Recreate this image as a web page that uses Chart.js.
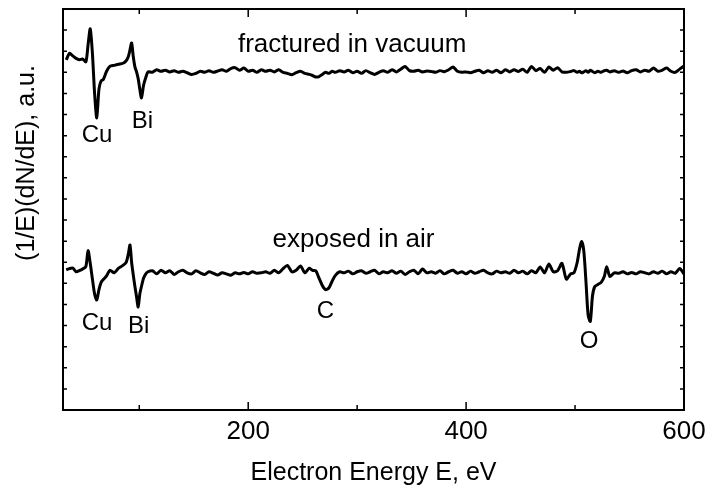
<!DOCTYPE html>
<html>
<head>
<meta charset="utf-8">
<script src="https://cdn.jsdelivr.net/npm/chart.js@4/dist/chart.umd.min.js"></script>
<style>
  body { margin: 0; background: #fff; }
  #wrap { width: 707px; height: 489px; }
</style>
</head>
<body>
<div id="wrap"><canvas id="aes" width="707" height="489"></canvas></div>
<script>
// Auger spectra, (1/E)(dN/dE) in arbitrary units
const energy = [
    33, 36, 39, 42, 45, 48, 51, 53, 55, 57, 59, 61, 63, 65, 67, 70, 73, 77, 81, 85,
    88, 90, 91.5, 93, 94.5, 96, 97.5, 99, 100.5, 102, 104, 106, 108,
    112, 116, 120, 124, 128, 132, 136, 140, 144, 148,
    152, 156, 160, 164, 168, 172, 176, 180, 184, 188,
    192, 196, 200, 204, 208, 212, 216, 220, 224, 228,
    232, 236, 240, 244, 248, 252, 256,
    259, 262, 265, 268, 271, 274, 277, 280, 284,
    288, 292, 296, 300, 304, 308, 312, 316, 320, 324,
    328, 332, 336, 340, 344, 348, 352, 356, 360, 364,
    368, 372, 376, 380, 384, 388, 392, 396, 400, 404,
    408, 412, 416, 420, 424, 428, 432, 436, 440, 444,
    448, 452, 456, 460, 464, 468, 472, 476, 480, 484,
    488, 492, 496,
    499, 502, 504, 506, 508, 510, 512, 514, 516, 518, 521, 524, 527, 529, 532, 536,
    540, 544, 548, 552, 556, 560, 564, 568, 572, 576, 580, 584, 588, 592, 596, 600
];

const fracturedInVacuum = [
    16.59, 16.9, 16.78, 16.66, 16.6, 16.63, 16.5, 17.3, 18.06, 16.9, 15.0, 13.84, 15.2, 15.6, 15.66, 16.05, 16.28, 16.33, 16.38, 16.43,
    16.55, 16.75, 17.06, 17.39, 16.75, 16.26, 16.02, 15.7, 15.2, 14.79, 15.4, 15.75, 16.02,
    16.0, 16.12, 16.05, 16.1, 16.02, 16.08, 16.0, 16.05, 15.98, 15.9,
    15.95, 16.05, 16.0, 16.08, 16.0, 16.06, 16.12, 16.05, 16.18, 16.22,
    16.1, 16.2, 16.05, 16.1, 16.0, 16.12, 16.05, 16.1, 16.02, 16.12,
    16.0, 15.95, 15.88, 15.98, 16.05, 15.95, 15.9,
    15.85, 15.78, 15.8, 15.9, 16.0, 15.95, 16.05, 16.0, 16.08,
    16.02, 16.1, 15.98, 16.05, 15.95, 16.08, 15.98, 15.9, 16.0, 16.08,
    16.0, 16.12, 16.02, 16.15, 16.28, 16.08, 16.05, 16.1, 16.02, 16.06,
    16.04, 16.0, 16.08, 16.03, 16.12, 16.25, 16.05, 16.0, 16.02, 15.98,
    16.05, 16.1, 15.98, 16.08, 16.0, 16.1, 15.98, 16.12, 16.02, 16.12,
    16.04, 16.15, 16.0, 16.28, 16.08, 16.18, 16.0, 16.25, 16.1, 16.22,
    16.02, 16.0, 16.04,
    16.08, 16.0, 16.05, 15.98, 16.02, 16.08, 16.0, 16.1, 16.04, 15.98, 16.05, 16.0, 16.08, 16.1, 16.02, 16.08,
    16.0, 16.06, 15.98, 16.08, 16.12, 16.02, 16.1, 16.05, 16.2, 16.05, 16.1, 16.2, 16.05, 16.0, 16.15, 16.3
];

const exposedInAir = [
    6.64, 6.7, 6.72, 6.55, 6.6, 6.68, 6.8, 7.55, 6.95, 6.2, 5.5, 5.21, 5.7, 6.05, 6.18, 6.35, 6.62, 6.5, 6.72, 6.85,
    7.0, 7.4, 7.82, 6.99, 6.4, 5.85, 5.37, 4.88, 5.5, 5.85, 6.25, 6.45, 6.55,
    6.6, 6.45, 6.62, 6.5, 6.6, 6.42, 6.55, 6.62, 6.5, 6.45,
    6.6, 6.5, 6.42, 6.55, 6.48, 6.4, 6.5, 6.45, 6.38, 6.5,
    6.45, 6.52, 6.45, 6.55, 6.48, 6.5, 6.55, 6.48, 6.62, 6.5,
    6.7, 6.85, 6.55, 6.62, 6.82, 6.5, 6.72,
    6.62, 6.6, 6.25, 5.9, 5.7, 5.78, 6.1, 6.38, 6.55,
    6.5, 6.58, 6.45, 6.55, 6.6, 6.48, 6.55, 6.62, 6.45, 6.55,
    6.5, 6.6, 6.48, 6.58, 6.42, 6.55, 6.62, 6.45, 6.68, 6.5,
    6.55, 6.48, 6.6, 6.45, 6.55, 6.62, 6.48, 6.55, 6.45, 6.58,
    6.48, 6.55, 6.62, 6.5, 6.45, 6.58, 6.5, 6.55, 6.48, 6.62,
    6.5, 6.58, 6.45, 6.6, 6.5, 6.78, 6.5, 6.92, 6.55, 6.6,
    6.95, 6.2, 6.45,
    6.5, 7.0, 7.6, 7.98, 7.55, 6.1, 4.5, 4.2, 5.4, 5.84, 5.95, 6.05, 6.35, 6.79, 6.32, 6.5,
    6.48, 6.55, 6.45, 6.52, 6.45, 6.55, 6.5, 6.45, 6.55, 6.48, 6.58, 6.45, 6.55, 6.48, 6.7, 6.45
];

const xTickValues = [100, 200, 300, 400, 500, 600];
const xTickLabels = ['', '200', '', '400', '', '600'];
const yTickValues = [1, 2, 3, 4, 5, 6, 7, 8, 9, 10, 11, 12, 13, 14, 15, 16, 17, 18];

const FONT = "'Liberation Sans', Arial, sans-serif";

function toPoints(values) {
    return energy.map((e, i) => ({ x: e, y: values[i] }));
}

// frame, inward ticks and the text labels inside the plot
const decorations = {
    id: 'decorations',
    afterDraw(chart) {
        const ctx = chart.ctx;
        const a = chart.chartArea;
        const x = chart.scales.x;
        const y = chart.scales.y;
        ctx.save();
        ctx.strokeStyle = '#000';
        ctx.lineWidth = 2;
        ctx.strokeRect(a.left, a.top, a.right - a.left, a.bottom - a.top);

        ctx.lineWidth = 1.5;
        ctx.beginPath();
        xTickValues.forEach((v, i) => {
            const px = x.getPixelForValue(v);
            const len = xTickLabels[i] ? 8 : 5;
            ctx.moveTo(px, a.bottom);
            ctx.lineTo(px, a.bottom - len);
            ctx.moveTo(px, a.top);
            ctx.lineTo(px, a.top + len);
        });
        yTickValues.forEach(v => {
            const py = y.getPixelForValue(v);
            ctx.moveTo(a.left, py);
            ctx.lineTo(a.left + 4, py);
            ctx.moveTo(a.right, py);
            ctx.lineTo(a.right - 4, py);
        });
        ctx.stroke();

        ctx.fillStyle = '#000';
        ctx.textAlign = 'left';
        ctx.textBaseline = 'alphabetic';
        const notes = [
            ['fractured in vacuum', 190.6, 16.97, 26],
            ['exposed in air', 222.4, 7.74, 26],
            ['Cu', 47.2, 12.7, 24],
            ['Bi', 93.0, 13.36, 24],
            ['Cu', 47.2, 3.79, 24],
            ['Bi', 89.6, 3.65, 24],
            ['C', 262.8, 4.36, 24],
            ['O', 504.3, 2.94, 24]
        ];
        notes.forEach(n => {
            ctx.font = n[3] + 'px ' + FONT;
            ctx.fillText(n[0], x.getPixelForValue(n[1]), y.getPixelForValue(n[2]));
        });

        // y axis title
        ctx.translate(27, 163);
        ctx.rotate(-Math.PI / 2);
        ctx.textAlign = 'center';
        ctx.textBaseline = 'middle';
        ctx.font = '25px ' + FONT;
        ctx.fillText('(1/E)(dN/dE), a.u.', 0, 0);
        ctx.restore();
    }
};

new Chart(document.getElementById('aes'), {
    type: 'line',
    data: {
        datasets: [
            {
                label: 'fractured in vacuum',
                data: toPoints(fracturedInVacuum),
                borderColor: '#000',
                borderWidth: 3,
                borderJoinStyle: 'round',
                tension: 0.25,
                pointRadius: 0,
                fill: false
            },
            {
                label: 'exposed in air',
                data: toPoints(exposedInAir),
                borderColor: '#000',
                borderWidth: 3,
                borderJoinStyle: 'round',
                tension: 0.25,
                pointRadius: 0,
                fill: false
            }
        ]
    },
    options: {
        responsive: false,
        animation: false,
        layout: { padding: { top: 9, right: 23, left: 0, bottom: 0 } },
        plugins: { legend: { display: false }, tooltip: { enabled: false } },
        scales: {
            x: {
                type: 'linear',
                min: 30,
                max: 600,
                grid: { display: false, drawTicks: false },
                border: { display: false },
                afterBuildTicks: s => { s.ticks = xTickValues.map(v => ({ value: v })); },
                afterFit: s => {
                    s.height = 79;
                    s.paddingLeft = 0;
                    s.paddingRight = 0;
                },
                ticks: {
                    callback: (v, i) => xTickLabels[i],
                    font: { family: FONT, size: 26 },
                    color: '#000',
                    padding: 6,
                    maxRotation: 0,
                    autoSkip: false
                },
                title: {
                    display: true,
                    text: 'Electron Energy E, eV',
                    font: { family: FONT, size: 25 },
                    color: '#000',
                    padding: { top: 0, bottom: 1 }
                }
            },
            y: {
                min: 0,
                max: 19,
                grid: { display: false, drawTicks: false },
                border: { display: false },
                ticks: { display: false },
                afterFit: s => { s.width = 63; }
            }
        }
    },
    plugins: [decorations]
});
</script>
</body>
</html>
